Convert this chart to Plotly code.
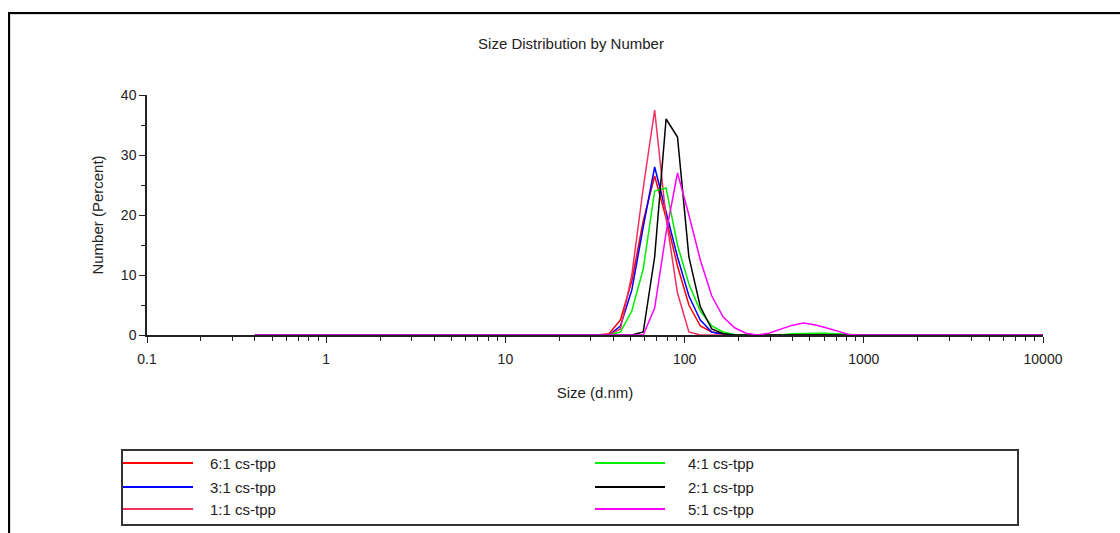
import plotly.graph_objects as go

# Size bins (d.nm)
sizes = [0.4, 0.463, 0.536, 0.621, 0.720, 0.833, 0.965, 1.117, 1.294, 1.499,
         1.736, 2.010, 2.328, 2.696, 3.122, 3.615, 4.187, 4.849, 5.615, 6.503,
         7.531, 8.721, 10.10, 11.70, 13.54, 15.69, 18.17, 21.04, 24.36, 28.21,
         32.67, 37.84, 43.82, 50.75, 58.77, 68.06, 78.82, 91.28, 105.7, 122.4,
         141.8, 164.2, 190.1, 220.2, 255.0, 295.3, 342.0, 396.1, 458.7, 531.2,
         615.1, 712.4, 825.0, 955.4, 1106, 1281, 1484, 1718, 1990, 2305,
         2669, 3091, 3580, 4145, 4801, 5560, 6439, 7456, 8635, 10000]

# Number (%) per bin for each sample
s_6_1 = [0, 0, 0, 0, 0, 0, 0, 0, 0, 0,
         0, 0, 0, 0, 0, 0, 0, 0, 0, 0,
         0, 0, 0, 0, 0, 0, 0, 0, 0, 0,
         0, 0.2, 2.5, 9.0, 19.0, 26.5, 19.5, 11.5, 5.0, 1.5,
         0.5, 0.2, 0, 0, 0, 0, 0, 0, 0, 0,
         0, 0, 0, 0, 0, 0, 0, 0, 0, 0,
         0, 0, 0, 0, 0, 0, 0, 0, 0, 0]
s_3_1 = [0, 0, 0, 0, 0, 0, 0, 0, 0, 0,
         0, 0, 0, 0, 0, 0, 0, 0, 0, 0,
         0, 0, 0, 0, 0, 0, 0, 0, 0, 0,
         0, 0, 1.5, 7.5, 18.0, 28.0, 20.5, 13.0, 6.5, 2.5,
         0.5, 0.1, 0, 0, 0, 0, 0, 0, 0, 0,
         0, 0, 0, 0, 0, 0, 0, 0, 0, 0,
         0, 0, 0, 0, 0, 0, 0, 0, 0, 0]
s_1_1 = [0, 0, 0, 0, 0, 0, 0, 0, 0, 0,
         0, 0, 0, 0, 0, 0, 0, 0, 0, 0,
         0, 0, 0, 0, 0, 0, 0, 0, 0, 0,
         0, 0, 1.0, 10.0, 24.5, 37.5, 19.5, 7.0, 0.5, 0,
         0, 0, 0, 0, 0, 0, 0, 0, 0, 0,
         0, 0, 0, 0, 0, 0, 0, 0, 0, 0,
         0, 0, 0, 0, 0, 0, 0, 0, 0, 0]
s_4_1 = [0, 0, 0, 0, 0, 0, 0, 0, 0, 0,
         0, 0, 0, 0, 0, 0, 0, 0, 0, 0,
         0, 0, 0, 0, 0, 0, 0, 0, 0, 0,
         0, 0, 0.5, 4.0, 11.0, 24.0, 24.5, 15.0, 8.5, 4.0,
         1.5, 0.5, 0.1, 0, 0, 0, 0, 0.2, 0.3, 0.3,
         0.3, 0.2, 0, 0, 0, 0, 0, 0, 0, 0,
         0, 0, 0, 0, 0, 0, 0, 0, 0, 0]
s_2_1 = [0, 0, 0, 0, 0, 0, 0, 0, 0, 0,
         0, 0, 0, 0, 0, 0, 0, 0, 0, 0,
         0, 0, 0, 0, 0, 0, 0, 0, 0, 0,
         0, 0, 0, 0, 0.5, 13.0, 36.0, 33.0, 13.0, 4.7,
         1.0, 0.2, 0, 0, 0, 0, 0, 0, 0, 0,
         0, 0, 0, 0, 0, 0, 0, 0, 0, 0,
         0, 0, 0, 0, 0, 0, 0, 0, 0, 0]
s_5_1 = [0, 0, 0, 0, 0, 0, 0, 0, 0, 0,
         0, 0, 0, 0, 0, 0, 0, 0, 0, 0,
         0, 0, 0, 0, 0, 0, 0, 0, 0, 0,
         0, 0, 0, 0, 0, 4.5, 17.0, 27.0, 20.0, 12.5,
         6.5, 3.0, 1.2, 0.3, 0, 0.3, 1.0, 1.6, 2.0, 1.7,
         1.2, 0.6, 0.1, 0, 0, 0, 0, 0, 0, 0,
         0, 0, 0, 0, 0, 0, 0, 0, 0, 0]

series_names = ["6:1 cs-tpp", "3:1 cs-tpp", "1:1 cs-tpp",
                "4:1 cs-tpp", "2:1 cs-tpp", "5:1 cs-tpp"]
series_values = [s_6_1, s_3_1, s_1_1, s_4_1, s_2_1, s_5_1]
series_colors = ["#ff0000", "#0000ff", "#f0305e", "#00ee00", "#000000", "#ff00ff"]

x_tick_vals = [0.1, 1, 10, 100, 1000, 10000]
x_tick_text = ["0.1", "1", "10", "100", "1000", "10000"]
y_tick_vals = [0, 10, 20, 30, 40]

FONT = "Liberation Sans, Arial, sans-serif"
TXT = "#222222"

fig = go.Figure()
for name, vals, col in zip(series_names, series_values, series_colors):
    fig.add_trace(go.Scatter(x=sizes, y=vals, mode="lines", name=name,
                             line=dict(color=col, width=1.5), showlegend=False,
                             hoverinfo="skip"))

# pixel -> paper helpers (plot area: x 147..1043, y 95..335)
def px(xp):
    return (xp - 147) / 896.0

def py(yp):
    return (335 - yp) / 240.0

shapes = []
annotations = []
# outer frame
shapes.append(dict(type="rect", xref="paper", yref="paper",
                   x0=px(10), x1=px(1130), y0=py(545), y1=py(14),
                   line=dict(color="#b0b0b0", width=1), fillcolor="rgba(0,0,0,0)", layer="below"))
shapes.append(dict(type="rect", xref="paper", yref="paper",
                   x0=px(9), x1=px(1130), y0=py(545), y1=py(13),
                   line=dict(color="#000000", width=2), fillcolor="rgba(0,0,0,0)", layer="below"))
# legend box
shapes.append(dict(type="rect", xref="paper", yref="paper",
                   x0=px(122), x1=px(1018), y0=py(525), y1=py(450),
                   line=dict(color="#333333", width=2), fillcolor="rgba(0,0,0,0)"))
row_y = [463, 487, 509]
col_line = [(123, 193), (595, 665)]
col_text = [208, 686]
for i, (name, col) in enumerate(zip(series_names, series_colors)):
    c = i // 3
    r = i % 3
    x0, x1 = col_line[c]
    shapes.append(dict(type="line", xref="paper", yref="paper",
                       x0=px(x0), x1=px(x1), y0=py(row_y[r]), y1=py(row_y[r]),
                       line=dict(color=col, width=2)))
    annotations.append(dict(xref="paper", yref="paper", x=px(col_text[c]), y=py(row_y[r]),
                            text=name, showarrow=False, xanchor="left", yanchor="middle",
                            font=dict(family=FONT, size=15, color=TXT)))

fig.update_layout(
    width=1120, height=533,
    margin=dict(l=147, r=77, t=95, b=198),
    paper_bgcolor="white", plot_bgcolor="white",
    title=dict(text="Size Distribution by Number", x=px(571), xref="paper",
               xanchor="center", y=1 - 44 / 533, yref="container", yanchor="middle",
               font=dict(family=FONT, size=15, color=TXT)),
    showlegend=False,
    hovermode=False,
    shapes=shapes,
    annotations=annotations,
    xaxis=dict(type="log", range=[-1, 4], tickvals=x_tick_vals, ticktext=x_tick_text,
               showgrid=False, zeroline=False, showline=True, linecolor="#222222",
               linewidth=1.5, ticks="outside", ticklen=6, tickcolor="#222222",
               ticklabelstandoff=4,
               tickfont=dict(family=FONT, size=14, color=TXT),
               minor=dict(tickvals=[m * d for d in [0.1, 1, 10, 100, 1000] for m in range(2, 10)],
                          ticks="outside", ticklen=4, tickcolor="#222222", showgrid=False),
               title=dict(text="Size (d.nm)", standoff=22,
                          font=dict(family=FONT, size=15, color=TXT))),
    yaxis=dict(range=[0, 40], tickvals=y_tick_vals, showgrid=False, zeroline=False,
               showline=True, linecolor="#222222", linewidth=1.5, ticks="outside",
               ticklen=6, tickcolor="#222222",
               tickfont=dict(family=FONT, size=14, color=TXT),
               minor=dict(tickvals=[5, 15, 25, 35], ticks="outside", ticklen=4,
                          tickcolor="#222222", showgrid=False),
               title=dict(text="Number (Percent)", standoff=14,
                          font=dict(family=FONT, size=15, color=TXT))),
)

fig.write_html("out.html")
